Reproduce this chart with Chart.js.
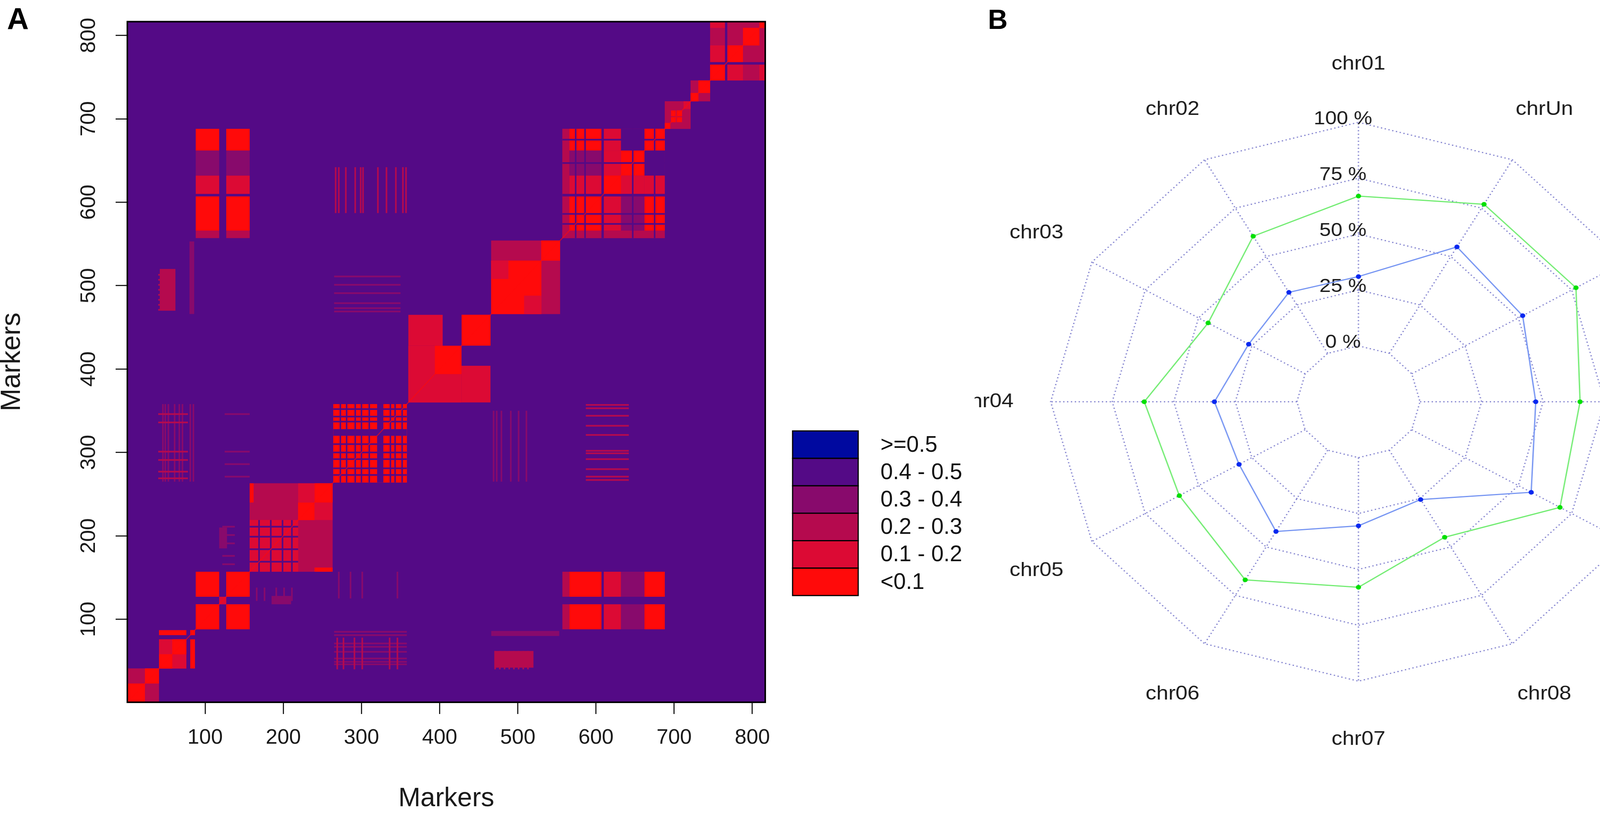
<!DOCTYPE html>
<html><head><meta charset="utf-8">
<script src="https://cdn.jsdelivr.net/npm/chart.js@4.4.1/dist/chart.umd.min.js"></script>
<style>
html,body{margin:0;padding:0;background:#fff;width:4562px;height:2088px;overflow:hidden;position:relative}
#heatCanvas{position:absolute;left:0;top:0;z-index:2;background:#fff}
#radarCanvas{position:absolute;left:2250px;top:0;z-index:1;transform:scaleX(1.102);transform-origin:0 0}
.panel{position:absolute;font-family:"Liberation Sans",Arial,sans-serif;font-weight:bold;color:#000;z-index:3;line-height:1}
</style></head>
<body>
<canvas id="heatCanvas" width="2495" height="2088"></canvas>
<canvas id="radarCanvas" width="2100" height="2088"></canvas>
<div class="panel" style="left:18px;top:10px;font-size:77px">A</div>
<div class="panel" style="left:2529px;top:15px;font-size:70px">B</div>
<script>
// ---------- Panel A data ----------
const markerCount = 816;
const heatXTicks = [100,200,300,400,500,600,700,800];
const heatYTicks = [100,200,300,400,500,600,700,800];
const ldClassLabels = ['>=0.5','0.4 - 0.5','0.3 - 0.4','0.2 - 0.3','0.1 - 0.2','<0.1'];
const ldClassColors = ['#0009A0','#540A86','#880A6C','#B50A4E','#DC0A34','#FF0A0A'];
const backgroundClass = 1;
const diagonalClass = 5;
// LD blocks [markerStart, markerEnd, markerStart2, markerEnd2, class]; mirrored about the diagonal
const ldBlocks = [
  [42,62,470,520,3],[80,86,466,553,2],[118,128,185,210,2],
  [88,118,557,566,3],[127,157,557,566,3],
  [88,118,566,607,5],[127,157,566,607,5],
  [88,118,610,632,4],[127,157,610,632,4],
  [88,118,632,662,2],[127,157,632,662,2],
  [88,118,662,688,5],[127,157,662,688,5],
  [0.5,41,0.5,41,3],[0.5,23,0.5,23,5],[23,41,23,41,5],
  [41,76,41,76,4],[41,58,41,58,5],[58,76,58,76,5],[81,87,41,76,5],[81,87,81,87,5],
  [88,118,88,118,5],[127,157,127,157,5],[88,118,127,157,5],[118,127,118,127,4],
  [157,263,157,263,3],[157,219,157,219,4],[219,240,219,240,5],[240,263,240,263,5],[219,240,240,263,4],[240,263,157,162,5],
  [264,358,264,358,5],
  [360,428,360,428,4],[394,428,394,428,5],[428,465,428,465,5],[360,404,428,465,4],[404,428,428,465,1],
  [466,554,466,554,3],[466,530,466,530,5],[466,488,508,530,4],[530,554,530,554,5],
  [557,688,557,688,2],[557,566,557,688,3],[566,607,566,607,5],[610,632,610,632,5],[632,662,632,662,5],
  [662,688,662,688,5],[566,607,610,632,4],[566,607,662,688,5],[610,632,662,688,4],[610,632,632,662,4],
  [566,607,632,662,2],[632,662,662,688,1],
  [688,721,688,721,3],[688,695,688,695,5],[696,702,696,702,5],[703,710,703,710,5],[712,721,712,721,4],[696,702,703,710,5],
  [721,746,721,746,3],[721,731,721,731,5],[731,746,731,746,5],
  [746,816.5,746,816.5,3],[746,765,746,765,5],[768,788,768,788,5],[788,809,788,809,5],[746,765,768,788,4],
  [809,816.5,746,765,4],[809,816.5,809,816.5,5]
];
// faint long-range LD: [rowStart, rowEnd, class, [marker columns]] (each column 2 markers wide, mirrored)
const ldFaintColumns = [
  [587,642,3,[266,270,279,291,298,301,320,331,343,352,356]],
  [125,157,2,[270,285,300,345]],
  [265,358,2,[45,48,52,60,66,70,80,84]],
  [40,78,3,[268,276,290,300,335,345]],
  [265,350,2,[468,472,478,490,500,510]],
  [122,138,2,[165,175,190,200,210]],
  [40,62,3,[470,476,482,488,494,500,506,512]]
];
// weak-LD separator lines inside blocks [blockStart, blockEnd, lineStart, lineEnd]
const ldStripes = [
  [264,358,272,274],[264,358,280,282],[264,358,291,293],[264,358,299,301],[264,358,309,311],
  [264,358,320,328],[264,358,336,338],[264,358,342,344],[264,358,351,353],
  [157,219,168,170],[157,219,183,185],[157,219,198,200],[157,219,210,212],
  [557,688,573,575],[557,688,585,587],[557,688,607,610],[557,688,646,648],[557,688,674,676],
  [746,816.5,765,768]
];

// ---------- Panel B data ----------
const radarCategories = ['chr01','chrUn','chr11','chr10','chr09','chr08','chr07','chr06','chr05','chr04','chr03','chr02'];
const pValue005  = [67, 77, 77, 65, 69.5, 45, 58, 67, 59, 62, 45.5, 60.5];
const pValue0001 = [31, 55, 52, 47, 56, 25.5, 30.5, 42, 31, 33.5, 26.5, 31.5];
const seriesNames = ['p <= 0.05','p <= 0.001'];
const radarTickValues = [0,25,50,75,100];
const radarTickLabels = ['0 %','25 %','50 %','75 %','100 %'];
const legendTitle = 'P-Value';

const FONT = '"Liberation Sans", Arial, Helvetica, sans-serif';
Chart.defaults.font.family = FONT;

// ---------- Panel A chart ----------
const heatPlugin = {
  id: 'ldHeatmap',
  beforeDatasetsDraw(chart) {
    const {ctx, chartArea: a, scales: {x, y}} = chart;
    ctx.save();
    ctx.beginPath(); ctx.rect(a.left, a.top, a.right - a.left, a.bottom - a.top); ctx.clip();
    ctx.fillStyle = ldClassColors[backgroundClass];
    ctx.fillRect(a.left, a.top, a.right - a.left, a.bottom - a.top);
    const cell = (x0, x1, y0, y1, c) => {
      const px0 = x.getPixelForValue(x0), px1 = x.getPixelForValue(x1);
      const py0 = y.getPixelForValue(y0), py1 = y.getPixelForValue(y1);
      ctx.fillStyle = ldClassColors[c];
      ctx.fillRect(Math.min(px0, px1), Math.min(py0, py1), Math.abs(px1 - px0), Math.abs(py1 - py0));
    };
    ldFaintColumns.forEach(([r0, r1, c, cols]) => cols.forEach(m => { cell(m, m + 2, r0, r1, c); cell(r0, r1, m, m + 2, c); }));
    ldBlocks.forEach(([a0, a1, b0, b1, c]) => { cell(a0, a1, b0, b1, c); cell(b0, b1, a0, a1, c); });
    ldStripes.forEach(([s, e, t0, t1]) => { cell(t0, t1, s, e, backgroundClass); cell(s, e, t0, t1, backgroundClass); });
    for (let m = 1; m <= markerCount; m++) cell(m - 0.5, m + 0.5, m - 0.5, m + 0.5, diagonalClass);
    ctx.restore();
  },
  afterDraw(chart) {
    const {ctx, chartArea: a} = chart;
    ctx.save();
    ctx.strokeStyle = '#000'; ctx.lineWidth = 4;
    ctx.strokeRect(a.left, a.top, a.right - a.left, a.bottom - a.top);
    const L = {left: 2029, width: 168, top: 1102.7, rowH: 70.2, textX: 2254};
    ctx.font = '57px ' + FONT;
    ctx.textBaseline = 'middle'; ctx.textAlign = 'left';
    ldClassLabels.forEach((lab, i) => {
      const top = L.top + i * L.rowH;
      ctx.fillStyle = ldClassColors[i];
      ctx.fillRect(L.left, top, L.width, L.rowH);
      ctx.strokeStyle = '#000'; ctx.lineWidth = 3;
      ctx.strokeRect(L.left, top, L.width, L.rowH);
      ctx.fillStyle = '#111';
      ctx.fillText(lab, L.textX, top + L.rowH / 2 + 2);
    });
    ctx.restore();
  }
};

new Chart(document.getElementById('heatCanvas'), {
  type: 'scatter',
  data: {datasets: [{data: []}]},
  options: {
    responsive: false, devicePixelRatio: 1, animation: false,
    layout: {padding: {left: 0, top: 20, right: 536, bottom: 0}},
    plugins: {legend: {display: false}, tooltip: {enabled: false}},
    scales: {
      x: {
        type: 'linear', position: 'bottom', min: 0.5, max: markerCount + 0.5,
        afterBuildTicks: s => { s.ticks = heatXTicks.map(v => ({value: v})); },
        afterFit: s => { s.height = 291; },
        ticks: {autoSkip: false, minRotation: 0, maxRotation: 0, padding: 29, color: '#1a1a1a', font: {size: 54}, callback: v => String(v)},
        grid: {drawOnChartArea: false, drawTicks: true, tickLength: 30, tickWidth: 3, tickColor: '#222'},
        border: {display: false},
        title: {display: true, text: 'Markers', color: '#1a1a1a', font: {size: 68}, padding: {top: 0, bottom: 3}}
      },
      y: {
        type: 'linear', position: 'left', min: 0.5, max: markerCount + 0.5,
        afterBuildTicks: s => { s.ticks = heatYTicks.map(v => ({value: v})); },
        afterFit: s => { s.width = 326; },
        ticks: {autoSkip: false, minRotation: 90, maxRotation: 90, crossAlign: 'center', padding: 23, color: '#1a1a1a', font: {size: 54}, callback: v => String(v)},
        grid: {drawOnChartArea: false, drawTicks: true, tickLength: 30, tickWidth: 3, tickColor: '#222'},
        border: {display: false},
        title: {display: true, text: 'Markers', color: '#1a1a1a', font: {size: 70, lineHeight: 0.92}, padding: {top: 0, bottom: 0}}
      }
    }
  },
  plugins: [heatPlugin]
});

// ---------- Panel B chart ----------
const gridColor = 'rgb(128,128,206)';
const radarPlugin = {
  id: 'radarExtras',
  beforeDatasetsDraw(chart) {
    const r = chart.scales.r, ctx = chart.ctx;
    ctx.save();
    ctx.strokeStyle = gridColor; ctx.lineWidth = 3; ctx.setLineDash([3, 6]);
    radarCategories.forEach((c, i) => {
      const p0 = r.getPointPositionForValue(i, radarTickValues[0]);
      const p1 = r.getPointPositionForValue(i, radarTickValues[radarTickValues.length - 1]);
      ctx.beginPath(); ctx.moveTo(p0.x, p0.y); ctx.lineTo(p1.x, p1.y); ctx.stroke();
    });
    ctx.setLineDash([]);
    ctx.fillStyle = '#1a1a1a'; ctx.font = '48px ' + FONT;
    ctx.textAlign = 'center'; ctx.textBaseline = 'middle';
    radarTickValues.forEach((v, k) => {
      const p = r.getPointPositionForValue(0, v);
      ctx.fillText(radarTickLabels[k], p.x - 36, p.y - 8);
    });
    ctx.restore();
  },
  afterDraw(chart) {
    const r = chart.scales.r, ctx = chart.ctx;
    ctx.save();
    ctx.fillStyle = '#1a1a1a'; ctx.font = '50px ' + FONT;
    ctx.textAlign = 'center'; ctx.textBaseline = 'middle';
    radarCategories.forEach((c, i) => {
      const p = r.getPointPositionForValue(i, 126);
      ctx.fillText(c, p.x, p.y);
    });
    // legend box
    const B = {left: 1777, top: 90, right: 2090, bottom: 275};
    ctx.strokeStyle = '#8a8a8a'; ctx.lineWidth = 3;
    ctx.strokeRect(B.left, B.top, B.right - B.left, B.bottom - B.top);
    ctx.font = '35px ' + FONT;
    ctx.fillText(legendTitle, 1933, 124);
    chart.data.datasets.forEach((ds, i) => {
      const yy = 182 + i * 46;
      ctx.strokeStyle = ds.borderColor; ctx.lineWidth = 3;
      ctx.beginPath(); ctx.moveTo(1785, yy); ctx.lineTo(1855, yy); ctx.stroke();
      ctx.fillStyle = ds.pointBackgroundColor;
      ctx.beginPath(); ctx.arc(1821, yy, 8, 0, Math.PI * 2); ctx.fill();
      ctx.fillStyle = '#1a1a1a'; ctx.textAlign = 'left';
      ctx.fillText(ds.label, 1890, yy + 2);
      ctx.textAlign = 'center';
    });
    ctx.restore();
  }
};

new Chart(document.getElementById('radarCanvas'), {
  type: 'radar',
  data: {
    labels: radarCategories,
    datasets: [
      {label: seriesNames[0], data: pValue005, borderColor: '#72EC72', backgroundColor: 'rgba(0,0,0,0)',
       pointBackgroundColor: '#00E000', pointBorderColor: '#00E000', pointRadius: 6, pointBorderWidth: 0, borderWidth: 3, fill: false},
      {label: seriesNames[1], data: pValue0001, borderColor: '#7594F2', backgroundColor: 'rgba(0,0,0,0)',
       pointBackgroundColor: '#0828F0', pointBorderColor: '#0828F0', pointRadius: 6, pointBorderWidth: 0, borderWidth: 3, fill: false}
    ]
  },
  options: {
    responsive: false, devicePixelRatio: 1, animation: false,
    layout: {padding: {left: 399, right: 271, top: 313, bottom: 345}},
    plugins: {legend: {display: false}, tooltip: {enabled: false}},
    elements: {line: {tension: 0}},
    scales: {
      r: {
        min: -25, max: 100, startAngle: 0,
        ticks: {display: false, stepSize: 25},
        grid: {circular: false, lineWidth: 3, color: c => (c.tick && c.tick.value >= 0) ? gridColor : 'rgba(0,0,0,0)'},
        border: {dash: [3, 6]},
        angleLines: {display: false},
        pointLabels: {display: false}
      }
    }
  },
  plugins: [radarPlugin]
});
</script>
</body></html>
